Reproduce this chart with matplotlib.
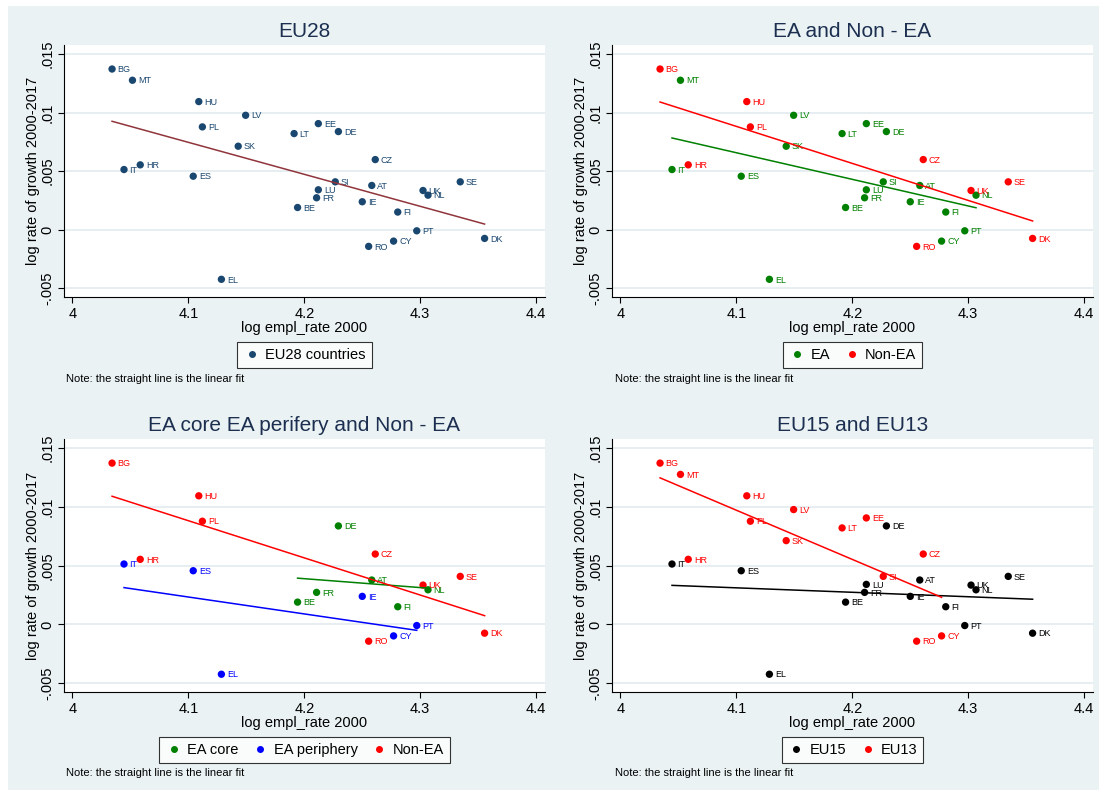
import numpy as np
import matplotlib
matplotlib.use("Agg")
import matplotlib.pyplot as plt
from matplotlib.lines import Line2D
from matplotlib.patches import Rectangle

plt.rcParams['font.family'] = ['Liberation Sans', 'DejaVu Sans']

# log employment rate in 2000 and log growth rate 2000-2017 by country
countries = ["BG", "MT", "HU", "LV", "PL", "EE", "DE", "LT", "SK", "CZ",
             "HR", "IT", "ES", "SI", "SE", "AT", "LU", "UK", "NL", "FR",
             "IE", "BE", "FI", "PT", "DK", "CY", "RO", "EL"]
empl_2000 = [4.0342, 4.0518, 4.1090, 4.1494, 4.1121, 4.2121, 4.2294, 4.1912, 4.1430, 4.2612,
             4.0585, 4.0445, 4.1042, 4.2267, 4.3345, 4.2582, 4.2121, 4.3024, 4.3067, 4.2106,
             4.2500, 4.1942, 4.2806, 4.2970, 4.3555, 4.2770, 4.2555, 4.1285]
growth = [0.01372, 0.01276, 0.01094, 0.00977, 0.00878, 0.00906, 0.00838, 0.00821, 0.00713, 0.00599,
          0.00554, 0.00514, 0.00457, 0.00409, 0.00409, 0.00378, 0.00341, 0.00335, 0.00295, 0.00273,
          0.00239, 0.00190, 0.00151, -0.00009, -0.00074, -0.00097, -0.00142, -0.00423]

ea = ["MT", "LV", "EE", "DE", "LT", "SK", "IT", "ES", "SI", "AT",
      "LU", "NL", "FR", "IE", "BE", "FI", "PT", "CY", "EL"]
non_ea = ["BG", "HU", "PL", "CZ", "HR", "SE", "UK", "DK", "RO"]
ea_core = ["DE", "AT", "FR", "BE", "FI", "NL"]
ea_periphery = ["IT", "ES", "IE", "PT", "CY", "EL"]
eu15 = ["DE", "IT", "ES", "SE", "AT", "LU", "UK", "NL", "FR",
        "IE", "BE", "FI", "PT", "DK", "EL"]
eu13 = ["BG", "MT", "HU", "LV", "PL", "EE", "LT", "SK", "CZ",
        "HR", "SI", "CY", "RO"]

x_ticks = [4, 4.1, 4.2, 4.3, 4.4]
x_tick_labels = ["4", "4.1", "4.2", "4.3", "4.4"]
y_ticks = [-0.005, 0, 0.005, 0.01, 0.015]
y_tick_labels = ["-.005", "0", ".005", ".01", ".015"]

NAVY = "#1A476F"
MAROON = "#90353B"
GREEN = "#008000"
RED = "#FF0000"
BLUE = "#0000FF"
BLACK = "#000000"
BG = "#EAF2F3"
GRID = "#E4EDF0"
TITLE = "#1C2F50"

W, H = 1099, 790
lookup = {c: (x, y) for c, x, y in zip(countries, empl_2000, growth)}


def box(left, right, top, bottom):
    return [left / W, 1 - bottom / H, (right - left) / W, (bottom - top) / H]


def draw_panel(fig, rect, title, groups, legend_top, note_x, note_y):
    ax = fig.add_axes(rect)
    ax.set_facecolor("white")
    ax.set_xlim(3.99275, 4.4076)
    ax.set_ylim(-0.00574, 0.01577)
    ax.set_xticks(x_ticks, x_tick_labels)
    ax.set_yticks(y_ticks, y_tick_labels)
    ax.tick_params(axis="both", direction="out", length=4.5, width=0.8,
                   labelsize=10.5, colors="black", pad=2.5)
    for lbl in ax.get_yticklabels():
        lbl.set_rotation(90)
        lbl.set_va("center")
    ax.grid(True, axis="y", color=GRID, linewidth=1.3)
    ax.set_axisbelow(True)
    for side in ["top", "right"]:
        ax.spines[side].set_visible(False)
    for side in ["left", "bottom"]:
        ax.spines[side].set_linewidth(0.8)

    handles = []
    labels = []
    for name, codes, color, line_color in groups:
        xs = np.array([lookup[c][0] for c in codes])
        ys = np.array([lookup[c][1] for c in codes])
        ax.scatter(xs, ys, s=28, color=color, edgecolors="none", zorder=3)
        for c, x, y in zip(codes, xs, ys):
            ax.annotate(c, (x, y), xytext=(4, -0.5), textcoords="offset points",
                        fontsize=6.5, color=color, va="center", ha="left", zorder=4)
        slope, intercept = np.polyfit(xs, ys, 1)
        fx = np.array([xs.min(), xs.max()])
        ax.plot(fx, intercept + slope * fx, color=line_color, linewidth=1.1, zorder=4)
        handles.append(Line2D([], [], marker="o", linestyle="none", color=color,
                              markersize=4))
        labels.append(name)

    ax.text(0.5, 1.053, title, transform=ax.transAxes, ha="center", va="center",
            fontsize=15, color=TITLE)
    ax.text(0.5, -0.123, "log empl_rate 2000", transform=ax.transAxes,
            ha="center", va="center", fontsize=10.5)
    ax.text(-0.064, 0.5, "log rate of growth 2000-2017", transform=ax.transAxes,
            ha="center", va="center", rotation=90, fontsize=10.5)

    cx = rect[0] + rect[2] / 2
    leg = fig.legend(handles, labels, loc="upper center",
                     bbox_to_anchor=(cx, 1 - legend_top / H), ncol=len(labels),
                     fontsize=10.5, frameon=True, fancybox=False, handletextpad=0.3,
                     columnspacing=0.9, borderpad=0.4, handlelength=1.2,
                     borderaxespad=0)
    leg.get_frame().set_edgecolor("black")
    leg.get_frame().set_linewidth(0.8)
    leg.get_frame().set_facecolor("white")

    fig.text(note_x / W, 1 - note_y / H, "Note: the straight line is the linear fit",
             fontsize=8, ha="left", va="center")
    return ax


fig = plt.figure(figsize=(W / 100, H / 100), dpi=100, facecolor=BG)
fig.patches.append(Rectangle((0, 0), 8 / W, 1, transform=fig.transFigure,
                             facecolor="white", edgecolor="none", zorder=0))
fig.patches.append(Rectangle((0, 1 - 6 / H), 1, 6 / H, transform=fig.transFigure,
                             facecolor="white", edgecolor="none", zorder=0))

draw_panel(fig, box(64, 545, 45, 297), "EU28",
           [("EU28 countries", countries, NAVY, MAROON)], 342, 66, 379)
draw_panel(fig, box(612, 1093, 45, 297), "EA and Non - EA",
           [("EA", ea, GREEN, GREEN), ("Non-EA", non_ea, RED, RED)], 342, 615, 379)
draw_panel(fig, box(64, 545, 439, 692), "EA core EA perifery and Non - EA",
           [("EA core", ea_core, GREEN, GREEN), ("EA periphery", ea_periphery, BLUE, BLUE),
            ("Non-EA", non_ea, RED, RED)], 737, 66, 773)
draw_panel(fig, box(612, 1093, 439, 692), "EU15 and EU13",
           [("EU15", eu15, BLACK, BLACK), ("EU13", eu13, RED, RED)], 737, 615, 773)

fig.savefig("out.png", dpi=100, facecolor=BG)
